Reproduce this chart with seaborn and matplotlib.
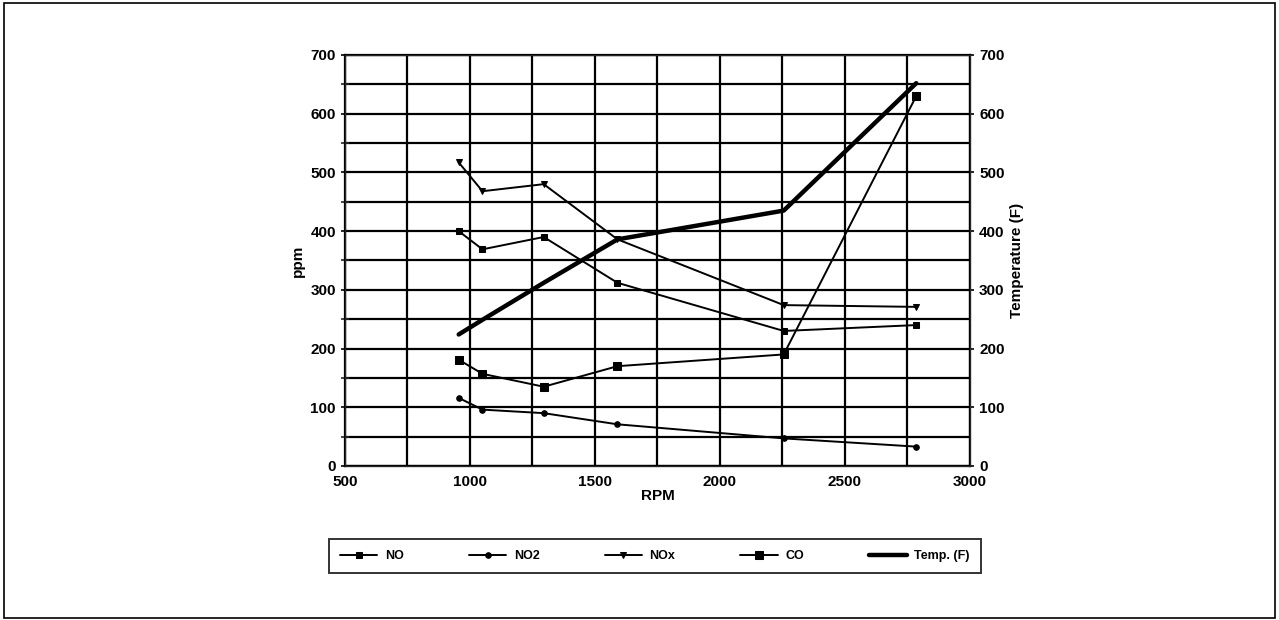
import matplotlib

matplotlib.use("Agg")
import matplotlib.pyplot as plt
import numpy as np
import seaborn as sns
from matplotlib.patches import Rectangle

# %% Data
rpm = [955, 1050, 1295, 1590, 2255, 2785]
no_ppm = [400, 369, 390, 312, 230, 240]
no2_ppm = [116, 96, 90, 71, 47, 33]
nox_ppm = [517, 468, 480, 386, 274, 271]
co_ppm = [181, 157, 135, 170, 190, 630]
temp_f = [224, 249, 312, 386, 435, 652]

ppm_ticks = [0, 100, 200, 300, 400, 500, 600, 700]
rpm_ticks = [500, 1000, 1500, 2000, 2500, 3000]

# %% Style
sns.set_style("white")
plt.rcParams["font.family"] = ["Liberation Sans", "DejaVu Sans"]
plt.rcParams["font.weight"] = "bold"
plt.rcParams["text.color"] = "black"
plt.rcParams["axes.labelcolor"] = "black"

fig = plt.figure(figsize=(12.79, 6.2), dpi=100)
ax = fig.add_axes([0.2697, 0.2484, 0.4887, 0.6629])

line_kw = dict(color="black", linewidth=1.4, markeredgecolor="black")
sns.lineplot(x=rpm, y=no_ppm, ax=ax, marker="s", markersize=5, label="NO", **line_kw)
sns.lineplot(x=rpm, y=no2_ppm, ax=ax, marker="o", markersize=4, label="NO2", **line_kw)
sns.lineplot(x=rpm, y=nox_ppm, ax=ax, marker="v", markersize=5, label="NOx", **line_kw)
sns.lineplot(x=rpm, y=co_ppm, ax=ax, marker="s", markersize=5.5, label="CO", **line_kw)

ax.set_xlim(500, 3000)
ax.set_ylim(0, 700)
ax.set_xticks(rpm_ticks)
ax.set_yticks(ppm_ticks)
ax.set_xticks(np.arange(500, 3001, 250), minor=True)
ax.set_yticks(np.arange(0, 701, 50), minor=True)
ax.grid(True, which="both", color="black", linewidth=1.6)
ax.tick_params(axis="both", which="major", direction="inout", length=6, width=1.2,
               labelsize=11, colors="black")
ax.tick_params(axis="both", which="minor", direction="inout", length=6, width=1.2)
for s in ax.spines.values():
    s.set_visible(True)
    s.set_color("black")
    s.set_linewidth(1.6)
ax.set_xlabel("RPM", fontsize=11, fontweight="bold", labelpad=0, color="black")
ax.set_ylabel("ppm", fontsize=11, fontweight="bold", labelpad=4, color="black")

# Temperature on its own right-hand axis
ax2 = ax.twinx()
sns.lineplot(x=rpm, y=temp_f, ax=ax2, color="black", linewidth=3.2, label="Temp. (F)")
ax2.set_ylim(0, 700)
ax2.set_yticks(ppm_ticks)
ax2.tick_params(axis="y", direction="inout", length=6, width=1.2, labelsize=11,
                colors="black")
ax2.set_ylabel("Temperature (F)", fontsize=11, fontweight="bold", labelpad=4,
               color="black")
ax2.grid(False)

# Combined legend in a box below the plot
h1, l1 = ax.get_legend_handles_labels()
h2, l2 = ax2.get_legend_handles_labels()
ax.get_legend().remove()
ax2.get_legend().remove()
leg = fig.legend(h1 + h2, l1 + l2, ncol=5, loc="center",
                 bbox_to_anchor=(0.512, 0.103), frameon=True, fancybox=False,
                 fontsize=9, handlelength=3.0, columnspacing=5.2,
                 borderpad=0.9, borderaxespad=0, handletextpad=0.6,
                 edgecolor="black")
leg.get_frame().set_linewidth(1.4)
for t in leg.get_texts():
    t.set_fontweight("bold")
    t.set_color("black")

# page frame like the scan
fig.patches.append(Rectangle((0.003, 0.003), 0.994, 0.992, transform=fig.transFigure,
                             fill=False, edgecolor="black", linewidth=1.2))

fig.savefig("out.png", dpi=100)
